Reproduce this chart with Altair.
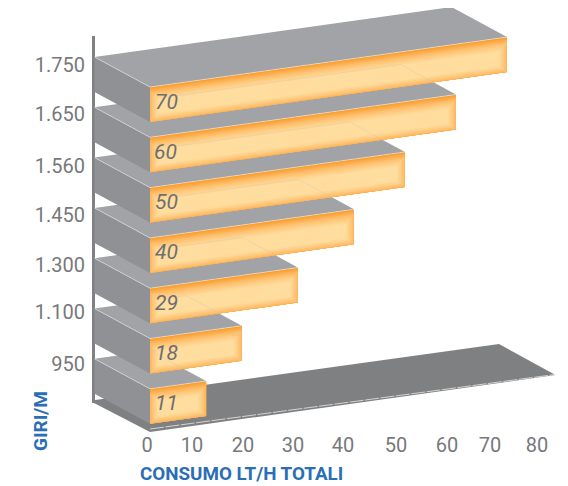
import altair as alt
import pandas as pd

# Data
consumption = [70, 60, 50, 40, 29, 18, 11]
value_labels = ["70", "60", "50", "40", "29", "18", "11"]
rpm_labels = ["1.750", "1.650", "1.560", "1.450", "1.300", "1.100", "950"]
x_ticks = ["0", "10", "20", "30", "40", "50", "60", "70", "80"]
x_title = "CONSUMO LT/H TOTALI"
y_title = "GIRI/M"

# Layout of the printed pseudo-3D drawing
X0, Y0, PX_PER_UNIT, SLOPE, ROW = 150.0, 87.0, 5.1, -0.14, 50.3
DX, DY, FACE_H = 55.5, 30.0, 35.0
rpm_baselines = [72, 121, 173, 222, 272, 319, 371]
tick_centres = [147, 192, 243, 293, 343, 396, 447, 490, 537]
FONT = "Roboto, DejaVu Sans Condensed, sans-serif"


def project(v, row, depth=0.0, drop=0.0):
    x = X0 + PX_PER_UNIT * v - DX * depth
    y = Y0 + ROW * row + SLOPE * PX_PER_UNIT * v - DY * depth + FACE_H * drop
    return x, y


def lerp_hex(a, b, t):
    ca = [int(a[i:i + 2], 16) for i in (1, 3, 5)]
    cb = [int(b[i:i + 2], 16) for i in (1, 3, 5)]
    return "#" + "".join(f"{round(p + (q - p) * t):02x}" for p, q in zip(ca, cb))


x_scale = alt.Scale(domain=[8, 560], range=[0, 552], nice=False, zero=False)
y_scale = alt.Scale(domain=[484, 8], nice=False, zero=False)
X = alt.X("x:Q", scale=x_scale, axis=None)
Y = alt.Y("y:Q", scale=y_scale, axis=None)

layers = []


def add_polygon(points, color):
    """Convex polygon -> vertical area band (x, y, y2)."""
    xs = sorted(set(p[0] for p in points))
    n = len(points)
    rows = []
    for x in xs:
        ys = []
        for i in range(n):
            (xa, ya), (xb, yb) = points[i], points[(i + 1) % n]
            if xa == xb:
                if xa == x:
                    ys += [ya, yb]
            elif min(xa, xb) <= x <= max(xa, xb):
                ys.append(ya + (yb - ya) * (x - xa) / (xb - xa))
        rows.append({"x": x, "y": min(ys), "y2": max(ys)})
    layers.append(alt.Chart(pd.DataFrame(rows)).mark_area(color=color, orient="vertical").encode(
        x=X, y=Y, y2="y2:Q"))


def add_segment(points, **kw):
    rows = [{"i": i, "x": x, "y": y} for i, (x, y) in enumerate(points)]
    layers.append(alt.Chart(pd.DataFrame(rows)).mark_line(**kw).encode(x=X, y=Y, order="i:Q"))


# wall, floor
add_polygon([(92, 36), (95, 36), (95, 403), (92, 403)], "#808184")
add_polygon([(92, 402), (95, 400), (499, 344), (555.5, 375), (150, 432)], "#7f8081")
add_segment([(150, 429), (555, 374.5)], color="#e8e8e8", strokeWidth=0.8, strokeDash=[14, 1.5])

ORANGE, MID, CREAM = "#fb9d2a", "#fdb65e", "#ffdd9f"
RINGS = 12
TOP_STEPS = 5
for row in range(len(consumption) - 1, -1, -1):
    v = consumption[row]
    add_polygon([project(0, row, 1), project(v, row, 1), project(v, row), project(0, row)], "#a2a3a6")
    add_polygon([project(0, row, 1), project(0, row), project(0, row, 0, 1), project(0, row, 1, 1)], "#909194")
    xl, yl = project(0, row)
    xr, yr = project(v, row)
    for k in range(TOP_STEPS):
        d = k * 0.9
        add_polygon([(xl, yl + d), (xr, yr + d), (xr, yr + FACE_H), (xl, yl + FACE_H)],
                    lerp_hex(ORANGE, MID, k / TOP_STEPS))
    for k in range(RINGS):
        t = k / (RINGS - 1)
        il, ir, it, ib = t * 8, t * 8, 4.5 + t * 9, t * 7
        ya = yl + SLOPE * il + it
        yb = yr - SLOPE * ir + it
        yc = yr - SLOPE * ir + FACE_H - ib
        yd = yl + SLOPE * il + FACE_H - ib
        add_polygon([(xl + il, ya), (xr - ir, yb), (xr - ir, yc), (xl + il, yd)],
                    lerp_hex(MID, CREAM, t ** 0.8))
    add_segment([project(0, row, 1), project(0, row), project(v, row)], color="#e6e6e6", strokeWidth=0.6)
    if row < len(consumption) - 1:
        vn = consumption[row + 1]
        bx, by = project(vn, row + 1, 1)
        left = 176 if row < 4 else 165
        ly = by + SLOPE * (left - bx)
        # run down the depth direction until it meets the bottom of this face
        s = 0.0
        while s < 1.0:
            px, py = project(vn, row + 1, 1 - s)
            fy = project((px - X0) / PX_PER_UNIT, row, 0, 1)[1]
            if py >= fy or px >= xr:
                break
            s += 0.02
        add_segment([(left, ly), (bx, by), project(vn, row + 1, 1 - s)],
                    color="#cfc3aa", strokeWidth=0.5, opacity=0.7)


def text_layer(rows, **kw):
    return alt.Chart(pd.DataFrame(rows)).mark_text(font=FONT, baseline="alphabetic", **kw).encode(
        x=X, y=Y, text="t:N")


layers.append(text_layer(
    [{"x": project(0, r)[0] + (4 if value_labels[r] == "60" else 5), "y": project(0, r)[1] + 21.5, "t": value_labels[r]}
     for r in range(len(value_labels))],
    fontSize=21, fontStyle="italic", color="#6d6e71", align="left"))
layers.append(text_layer(
    [{"x": 85, "y": b, "t": t} for b, t in zip(rpm_baselines, rpm_labels)],
    fontSize=20, color="#77787b", align="right"))
layers.append(text_layer(
    [{"x": c, "y": 452, "t": t} for c, t in zip(tick_centres, x_ticks)],
    fontSize=20, color="#77787b", align="center"))
layers.append(text_layer([{"x": 140, "y": 480, "t": x_title}],
                         fontSize=18.8, fontWeight="bold", color="#2a6eb5", align="left"))
layers.append(text_layer([{"x": 47, "y": 421, "t": y_title}],
                         fontSize=19, fontWeight="bold", color="#2a6eb5", align="center", angle=270))

chart = alt.layer(*layers).properties(
    width=552, height=476, padding=0, autosize=alt.AutoSizeParams(type="none"),
    background="white",
).configure_view(stroke=None)

chart.save("out.html", embed_options={"renderer": "svg", "actions": False})
